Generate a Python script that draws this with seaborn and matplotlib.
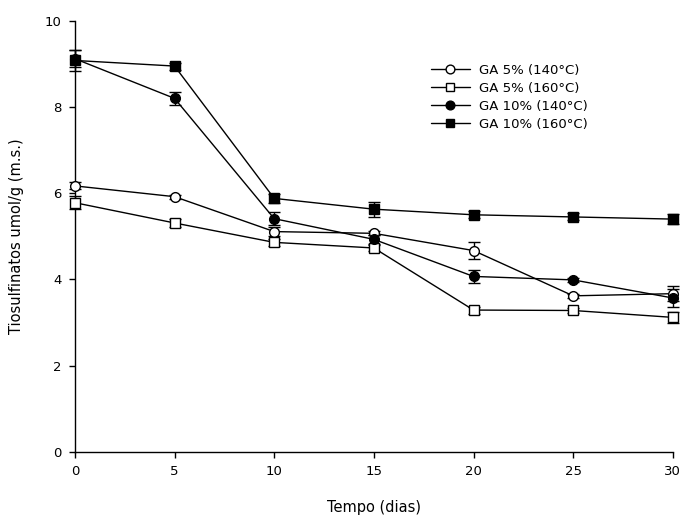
import matplotlib
matplotlib.use("Agg")
import matplotlib.pyplot as plt
import seaborn as sns
import pandas as pd

dias = [0, 5, 10, 15, 20, 25, 30]
series_names = ["GA 5% (140°C)", "GA 5% (160°C)", "GA 10% (140°C)", "GA 10% (160°C)"]
ga5_140 = [6.17, 5.92, 5.11, 5.07, 4.67, 3.62, 3.67]
ga5_160 = [5.78, 5.31, 4.86, 4.73, 3.29, 3.28, 3.12]
ga10_140 = [9.12, 8.20, 5.41, 4.93, 4.07, 3.99, 3.57]
ga10_160 = [9.08, 8.95, 5.88, 5.63, 5.50, 5.45, 5.40]
err5_140 = [0.08, 0.05, 0.10, 0.05, 0.20, 0.05, 0.18]
err5_160 = [0.15, 0.10, 0.08, 0.08, 0.08, 0.05, 0.12]
err10_140 = [0.20, 0.15, 0.15, 0.10, 0.15, 0.05, 0.20]
err10_160 = [0.25, 0.08, 0.10, 0.17, 0.08, 0.08, 0.12]
y_ticks = [0, 2, 4, 6, 8, 10]
x_ticks = [0, 5, 10, 15, 20, 25, 30]

values = [ga5_140, ga5_160, ga10_140, ga10_160]
errors = [err5_140, err5_160, err10_140, err10_160]
markers = ["o", "s", "o", "s"]
faces = ["white", "white", "black", "black"]

sns.set_style("ticks")
plt.rcParams["font.family"] = ["DejaVu Sans"]
plt.rcParams["text.color"] = "black"
plt.rcParams["axes.labelcolor"] = "black"

fig = plt.figure(figsize=(6.81, 5.2), dpi=100)
ax = fig.add_axes([0.110, 0.131, 0.878, 0.829])

rows = []
for name, vals in zip(series_names, values):
    for d, v in zip(dias, vals):
        rows.append({"dias": d, "valor": v, "serie": name})
df = pd.DataFrame(rows)

for name, vals, errs, m, fc in zip(series_names, values, errors, markers, faces):
    ax.errorbar(dias, vals, yerr=errs, fmt="none", ecolor="black",
                elinewidth=1, capsize=4, capthick=1, zorder=2, clip_on=False)
    sns.lineplot(data=df[df["serie"] == name], x="dias", y="valor", ax=ax,
                 color="black", linewidth=1, marker=m, markersize=7,
                 markerfacecolor=fc, markeredgecolor="black", markeredgewidth=1,
                 label=name, zorder=3, clip_on=False)

ax.set_xlim(0, 30)
ax.set_ylim(0, 10)
ax.set_xticks(x_ticks)
ax.set_yticks(y_ticks)
ax.tick_params(direction="out", length=4.5, width=1, labelsize=9.5, colors="black", pad=5)
for s in ["top", "right"]:
    ax.spines[s].set_visible(False)
for s in ["left", "bottom"]:
    ax.spines[s].set_linewidth(1)
    ax.spines[s].set_color("black")

ax.set_xlabel("Tempo (dias)", fontsize=10.5, labelpad=16, color="black")
ax.set_ylabel("Tiosulfinatos umol/g (m.s.)", fontsize=10.5, labelpad=15, color="black")

leg = ax.legend(loc="upper left", bbox_to_anchor=(0.585, 0.916), frameon=False,
                fontsize=9.5, handlelength=2.9, handletextpad=0.7,
                labelspacing=0.38, borderpad=0.0, markerscale=0.9)
for t in leg.get_texts():
    t.set_color("black")

fig.savefig("out.png", dpi=100)
